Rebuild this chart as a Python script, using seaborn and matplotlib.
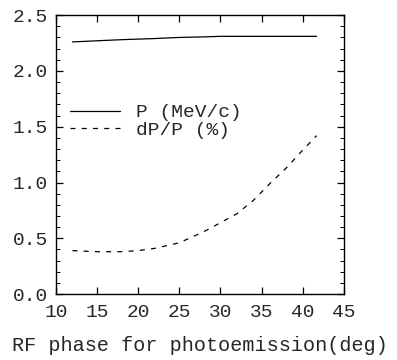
import numpy as np
import pandas as pd
import matplotlib
matplotlib.use("Agg")
import matplotlib.pyplot as plt
import seaborn as sns
from matplotlib.ticker import MultipleLocator

# Data
phase_p = [12, 15, 18, 20, 22, 25, 28, 30, 32, 34, 36, 38, 40, 41.7]
p_mev = [2.26, 2.27, 2.28, 2.285, 2.29, 2.30, 2.305, 2.31, 2.31, 2.31, 2.31, 2.31, 2.31, 2.31]
phase_dp = [12, 15, 18, 20, 22, 25, 28, 30, 32, 34, 36, 38, 40, 41.7]
dp_pct = [0.39, 0.38, 0.38, 0.39, 0.41, 0.46, 0.56, 0.64, 0.72, 0.84, 0.99, 1.13, 1.29, 1.42]
labels = ["P (MeV/c)", "dP/P (%)"]

df = pd.concat([
    pd.DataFrame({"phase": phase_p, "value": p_mev, "series": labels[0]}),
    pd.DataFrame({"phase": phase_dp, "value": dp_pct, "series": labels[1]}),
])

sns.set_style("ticks")
plt.rcParams["font.family"] = ["Liberation Mono", "DejaVu Sans Mono"]

fig = plt.figure(figsize=(3.97, 3.60), dpi=100)
ax = fig.add_axes([0.141, 0.183, 0.725, 0.775])

sns.lineplot(data=df, x="phase", y="value", style="series", color="black",
             dashes={labels[0]: "", labels[1]: (4, 5)}, linewidth=0.9,
             ax=ax, sort=False)

ax.set_xlim(10, 45)
ax.set_ylim(0, 2.5)
ax.xaxis.set_major_locator(MultipleLocator(5))
ax.yaxis.set_major_locator(MultipleLocator(0.5))
ax.yaxis.set_minor_locator(MultipleLocator(0.1))
ax.yaxis.set_major_formatter(matplotlib.ticker.FormatStrFormatter("%.1f"))
ax.tick_params(axis="both", which="both", direction="in", top=True, right=True,
               labelsize=14, color="black")
ax.tick_params(which="major", length=5, width=0.9)
ax.tick_params(which="minor", length=3, width=0.7)
ax.tick_params(axis="x", pad=7)
ax.tick_params(axis="y", pad=6)
for s in ax.spines.values():
    s.set_linewidth(1.0)
    s.set_color("black")

ax.set_xlabel("RF phase for photoemission(deg)", fontsize=14.5, labelpad=11)
ax.set_ylabel("")

leg = ax.legend(loc="upper left", bbox_to_anchor=(0.02, 0.71), frameon=False,
                fontsize=14, handlelength=2.6, handletextpad=0.8,
                labelspacing=0.0, borderaxespad=0)
leg.set_title(None)

fig.savefig("out.png", dpi=100)
